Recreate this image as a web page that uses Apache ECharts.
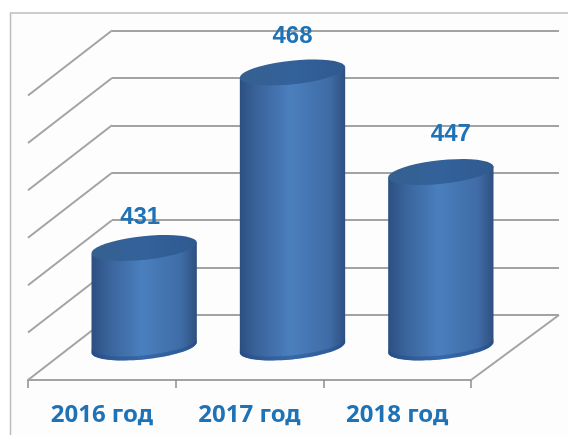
<!DOCTYPE html>
<html>
<head>
<meta charset="utf-8">
<script src="https://cdn.jsdelivr.net/npm/echarts@6/dist/echarts.min.js"></script>
<style>
html, body { margin: 0; padding: 0; background: #fff; }
#chart { width: 568px; height: 435px; }
</style>
</head>
<body>
<div id="chart"></div>
<script>
var categories = ['2016 год', '2017 год', '2018 год'];
var values = [431, 468, 447];
var wallTicks = [410, 420, 430, 440, 450, 460, 470];

var axisMin = 410, axisMax = 470;
var lineColor = '#a3a3a3';
var textColor = '#1e72b6';

// сдвиг подписей значений относительно центра верхней крышки
var labelDx = [-4, 0, 10];
var labelDy = [-31, -36, -38];

var chart = echarts.init(document.getElementById('chart'));

// точки эллипса, наклонённого на rot радиан
function arc(cx, cy, rx, ry, rot, from, to) {
    var pts = [];
    for (var i = 0; i <= 40; i++) {
        var t = from + (to - from) * i / 40;
        pts.push([
            cx + rx * Math.cos(t) * Math.cos(rot) - ry * Math.sin(t) * Math.sin(rot),
            cy + rx * Math.cos(t) * Math.sin(rot) + ry * Math.sin(t) * Math.cos(rot)
        ]);
    }
    return pts;
}

function hGrad(stops) {
    return new echarts.graphic.LinearGradient(0, 0, 1, 0, stops);
}

function renderCylinder(params, api) {
    var i = api.value(0);
    var top = api.coord([i, api.value(1)]);
    var base = api.coord([i, axisMin]);
    var rx = api.size([1, 0])[0] * 0.357;
    var ry = 11.8;
    var rot = -6 * Math.PI / 180;

    var body = arc(top[0], top[1], rx, ry, rot, Math.PI, 0)
        .filter(function (p, k) { return k === 0 || k === 40; })
        .concat(arc(base[0], base[1], rx, ry, rot, 0, Math.PI));
    var rim = arc(base[0], base[1], rx, ry, rot, 0, Math.PI)
        .concat(arc(base[0], base[1] - 4, rx, ry, rot, Math.PI, 0));
    var cap = arc(top[0], top[1], rx, ry, rot, 0, Math.PI * 2);

    return {
        type: 'group',
        children: [
            {
                type: 'polygon',
                shape: { points: body },
                style: {
                    fill: hGrad([
                        { offset: 0, color: '#2c4f80' },
                        { offset: 0.14, color: '#386198' },
                        { offset: 0.48, color: '#4a7fbe' },
                        { offset: 0.85, color: '#3f6ca6' },
                        { offset: 1, color: '#2f5080' }
                    ])
                }
            },
            {
                type: 'polygon',
                shape: { points: rim },
                style: { fill: 'rgba(32,76,140,0.45)' }
            },
            {
                type: 'polygon',
                shape: { points: cap },
                style: {
                    fill: hGrad([
                        { offset: 0, color: '#35608f' },
                        { offset: 0.5, color: '#33619a' },
                        { offset: 1, color: '#2f5a90' }
                    ])
                }
            },
            {
                type: 'text',
                style: {
                    text: String(api.value(1)),
                    x: top[0] + labelDx[i],
                    y: top[1] + labelDy[i],
                    textAlign: 'center',
                    textVerticalAlign: 'middle',
                    font: 'bold 24px "Liberation Sans", sans-serif',
                    fill: textColor
                }
            }
        ]
    };
}

// диагонали боковой стенки и пола
function renderDepthLine(dx, dy) {
    return function (params, api) {
        var p = api.coord([api.value(0), api.value(1)]);
        return {
            type: 'line',
            shape: { x1: p[0], y1: p[1], x2: p[0] + dx, y2: p[1] + dy },
            style: { stroke: lineColor, lineWidth: 2 }
        };
    };
}

var option = {
    animation: false,
    backgroundColor: '#fff',
    graphic: [{
        type: 'rect',
        z: -1,
        shape: { x: 10.5, y: 13, width: 600, height: 460 },
        style: { fill: '#fdfdfe', stroke: '#bdbdbd', lineWidth: 1.5 }
    }],
    grid: [
        { left: 112, top: 30.5, width: 447, height: 284.5 }, // задняя стенка
        { left: 28, top: 95.5, width: 443, height: 284.5 },  // передний край
        { left: 70, top: 63, width: 445, height: 284.5 }     // плоскость цилиндров
    ],
    xAxis: [
        { gridIndex: 0, type: 'value', min: 0, max: 3, show: false },
        {
            gridIndex: 1,
            type: 'category',
            data: categories,
            axisLine: { show: true, lineStyle: { color: lineColor, width: 2 } },
            axisTick: { show: true, length: 8, lineStyle: { color: '#8c8c8c', width: 1.5 } },
            axisLabel: {
                margin: 23,
                color: textColor,
                fontFamily: '"Noto Sans", sans-serif',
                fontWeight: 'bold',
                fontSize: 24
            }
        },
        { gridIndex: 2, type: 'category', data: categories, show: false }
    ],
    yAxis: [
        {
            gridIndex: 0,
            type: 'value',
            min: axisMin,
            max: axisMax,
            interval: 10,
            axisLine: { show: false },
            axisTick: { show: false },
            axisLabel: { show: false },
            splitLine: { lineStyle: { color: lineColor, width: 2 } }
        },
        { gridIndex: 1, type: 'value', min: axisMin, max: axisMax, show: false },
        { gridIndex: 2, type: 'value', min: axisMin, max: axisMax, show: false }
    ],
    series: [
        {
            type: 'custom',
            xAxisIndex: 0,
            yAxisIndex: 0,
            renderItem: renderDepthLine(-84, 65),
            data: wallTicks.map(function (v) { return [0, v]; }),
            encode: { x: 0, y: 1 },
            silent: true
        },
        {
            type: 'custom',
            xAxisIndex: 0,
            yAxisIndex: 0,
            renderItem: renderDepthLine(-88, 65),
            data: [[3, axisMin]],
            encode: { x: 0, y: 1 },
            silent: true
        },
        {
            type: 'custom',
            xAxisIndex: 2,
            yAxisIndex: 2,
            renderItem: renderCylinder,
            data: values.map(function (v, i) { return [i, v]; }),
            encode: { x: 0, y: 1 }
        }
    ]
};

chart.setOption(option);
</script>
</body>
</html>
